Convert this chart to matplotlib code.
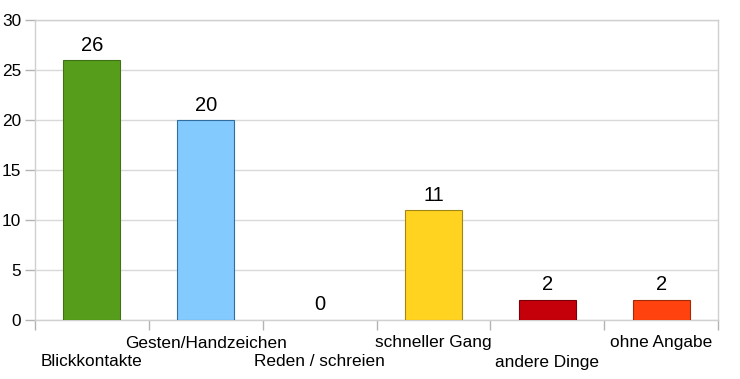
import matplotlib.pyplot as plt

plt.rcParams['font.family'] = ['Liberation Sans', 'DejaVu Sans']

# Daten
kategorien = ['Blickkontakte', 'Gesten/Handzeichen', 'Reden / schreien',
              'schneller Gang', 'andere Dinge', 'ohne Angabe']
werte = [26, 20, 0, 11, 2, 2]
farben = ['#579D1C', '#83CAFF', '#004586', '#FFD320', '#C5000B', '#FF420E']
kanten = ['#3F7214', '#2F6E9E', 'none', '#A08614', '#7A0007', '#A02A09']
y_ticks = [0, 5, 10, 15, 20, 25, 30]

fig = plt.figure(figsize=(7.40, 3.79), dpi=100)
ax = fig.add_axes([35 / 740, 1 - 320 / 379, 683 / 740, 300 / 379])

pos = list(range(len(kategorien)))
ax.bar(pos, werte, width=0.5, color=farben, edgecolor=kanten, linewidth=0.8, zorder=3)

for x, v in zip(pos, werte):
    ax.text(x, v + 0.55, str(v), ha='center', va='bottom', fontsize=14.5, color='black')

ax.set_xlim(-0.5, len(kategorien) - 0.5)
ax.set_ylim(0, 30)
ax.set_yticks(y_ticks)
ax.tick_params(axis='y', labelsize=12.4, length=7, color='#b3b3b3', pad=3, width=1)
ax.grid(axis='y', color='#d9d9d9', linewidth=1, zorder=0)

# Kategorie-Grenzen als Tickmarken, Beschriftungen versetzt
ax.set_xticks([p - 0.5 for p in range(len(kategorien) + 1)])
ax.set_xticklabels([])
ax.tick_params(axis='x', length=7, color='#b3b3b3', width=1)
for i, name in enumerate(kategorien):
    y = -2.3 if i % 2 == 1 else -4.2
    ax.text(i, y, name, ha='center', va='center', fontsize=12.4)

for s in ax.spines.values():
    s.set_color('#d0d0d0')
    s.set_linewidth(1)

fig.savefig('out.png', dpi=100)
